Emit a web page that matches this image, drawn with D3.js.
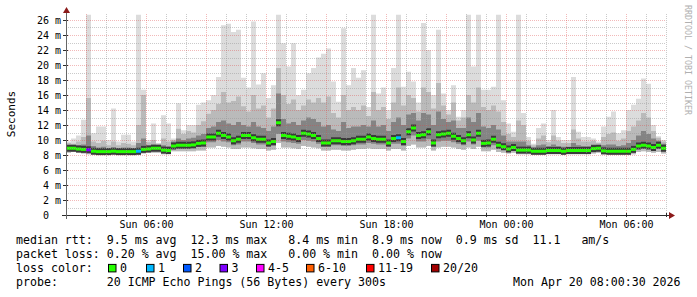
<!DOCTYPE html>
<html>
<head>
<meta charset="utf-8">
<script src="https://cdn.jsdelivr.net/npm/d3@7"></script>
<style>
  body { margin: 0; background: #fff; }
  svg text { font-family: 'DejaVu Sans Mono', monospace; white-space: pre; }
</style>
</head>
<body>
<div id="chart"></div>
<script>
// one sample every 15 minutes, Sun 02:00 -> Mon 08:00
const start = new Date(2026, 3, 19, 2, 0);
const end = new Date(2026, 3, 20, 8, 0);
const stepMinutes = 15;

const median = [
  8.9, 8.9, 8.8, 8.75, 8.7, 8.5, 8.45, 8.45, 8.45, 8.5,
  8.45, 8.45, 8.45, 8.45, 8.5, 8.75, 8.8, 8.9, 8.9, 8.65,
  8.6, 9.2, 9.3, 9.3, 9.3, 9.35, 9.55, 9.6, 10.4, 10.4,
  10.9, 10.6, 10.4, 9.9, 10.1, 10.6, 10.6, 10.3, 10.1, 10.1,
  9.6, 9.8, 12.3, 10.6, 10.5, 10.4, 10.2, 10.9, 10.8, 10.6,
  10.2, 9.6, 9.6, 9.9, 9.9, 9.8, 9.8, 9.9, 10.1, 10.1,
  10.4, 10.2, 10.1, 10.1, 9.6, 10.2, 10.3, 9.8, 11.1, 11.6,
  10.6, 10.7, 11.1, 9.6, 10.7, 10.8, 10.9, 10.5, 10.2, 9.9,
  10.7, 10.0, 10.9, 9.55, 9.6, 10.1, 9.3, 9.1, 8.8, 9.0,
  8.65, 8.65, 8.65, 8.5, 8.5, 8.5, 8.6, 8.6, 8.6, 8.5,
  8.6, 8.6, 8.6, 8.6, 8.6, 8.85, 8.9, 8.55, 8.5, 8.5,
  8.5, 8.5, 8.5, 8.75, 9.2, 9.3, 9.2, 9.0, 9.3, 8.9
];
const smokeMin = [
  8.3, 8.4, 8.3, 8.2, 8.1, 8.1, 8.1, 8.1, 8.1, 8.1,
  8.1, 8.1, 8.1, 8.1, 8.0, 8.2, 8.3, 8.3, 8.3, 8.1,
  8.1, 8.5, 8.5, 8.5, 8.5, 8.5, 8.6, 8.6, 9.0, 9.0,
  9.2, 9.1, 9.0, 8.8, 8.8, 9.0, 9.0, 8.9, 8.8, 8.8,
  8.6, 8.7, 9.6, 9.0, 9.0, 8.9, 8.8, 9.2, 9.1, 9.0,
  8.9, 8.6, 8.6, 8.7, 8.7, 8.6, 8.6, 8.7, 8.8, 8.8,
  8.9, 8.8, 8.8, 8.8, 8.6, 8.8, 8.8, 8.6, 9.2, 9.4,
  9.0, 9.0, 9.2, 8.6, 9.0, 9.1, 9.1, 9.0, 8.8, 8.7,
  9.0, 8.8, 9.1, 8.5, 8.5, 8.7, 8.4, 8.3, 8.2, 8.3,
  8.1, 8.1, 8.1, 8.0, 8.0, 8.0, 8.1, 8.1, 8.1, 8.0,
  8.1, 8.1, 8.1, 8.1, 8.1, 8.2, 8.3, 8.1, 8.0, 8.0,
  8.0, 8.0, 8.0, 8.1, 8.4, 8.5, 8.4, 8.3, 8.4, 8.2
];
const smokeLo = [
  8.7, 8.7, 8.6, 8.5, 8.5, 8.3, 8.3, 8.3, 8.3, 8.3,
  8.3, 8.3, 8.3, 8.3, 8.3, 8.5, 8.6, 8.7, 8.7, 8.4,
  8.4, 8.9, 9.0, 9.0, 9.0, 9.0, 9.1, 9.1, 9.7, 9.7,
  10.0, 9.8, 9.7, 9.3, 9.4, 9.8, 9.8, 9.6, 9.4, 9.4,
  9.1, 9.2, 10.8, 9.8, 9.7, 9.6, 9.5, 10.0, 9.9, 9.8,
  9.5, 9.1, 9.1, 9.3, 9.3, 9.2, 9.2, 9.3, 9.4, 9.4,
  9.6, 9.5, 9.4, 9.4, 9.1, 9.5, 9.5, 9.2, 10.2, 10.6,
  9.8, 9.8, 10.1, 9.1, 9.8, 9.9, 9.9, 9.7, 9.5, 9.3,
  9.8, 9.4, 9.9, 9.0, 9.0, 9.3, 8.9, 8.8, 8.5, 8.7,
  8.4, 8.4, 8.4, 8.3, 8.3, 8.3, 8.4, 8.4, 8.4, 8.3,
  8.4, 8.4, 8.4, 8.4, 8.4, 8.6, 8.7, 8.3, 8.3, 8.3,
  8.3, 8.3, 8.3, 8.5, 8.9, 9.0, 8.9, 8.7, 8.9, 8.6
];
const smokeHi1 = [
  9.3, 9.2, 9.3, 9.4, 10.6, 9.2, 9.0, 9.1, 8.9, 9.0,
  8.9, 9.0, 9.0, 8.9, 9.6, 10.2, 9.3, 9.4, 9.3, 9.3,
  9.2, 9.8, 10.2, 10.0, 10.2, 10.3, 10.6, 10.8, 11.6, 11.8,
  12.4, 12.6, 12.2, 12.0, 12.4, 12.0, 11.8, 12.4, 11.8, 11.6,
  11.2, 11.8, 16.2, 12.8, 12.2, 12.4, 12.0, 12.6, 13.0, 12.8,
  12.4, 11.8, 12.0, 11.4, 11.2, 12.4, 11.6, 11.8, 11.8, 12.0,
  11.8, 12.6, 11.8, 12.0, 11.2, 12.4, 13.0, 12.0, 13.4, 13.6,
  12.6, 13.6, 13.4, 12.0, 13.8, 12.8, 12.4, 12.6, 11.6, 11.6,
  13.0, 12.4, 13.6, 11.8, 11.6, 12.0, 11.4, 10.6, 9.8, 9.8,
  9.8, 9.8, 9.3, 9.0, 9.3, 9.4, 9.2, 9.4, 9.2, 9.1,
  9.1, 9.6, 9.3, 9.2, 9.2, 9.4, 9.3, 9.3, 9.4, 9.4,
  9.2, 9.3, 9.6, 10.0, 10.6, 11.2, 10.8, 10.2, 9.9, 9.5
];
const smokeHi2 = [
  9.6, 9.5, 9.8, 10.4, 15.6, 9.8, 9.6, 9.9, 9.3, 9.8,
  9.3, 9.6, 9.5, 9.3, 12.0, 16.0, 9.7, 10.0, 9.5, 10.2,
  9.8, 10.0, 11.5, 10.8, 11.2, 11.0, 12.0, 12.5, 13.5, 14.0,
  14.8, 16.4, 15.0, 15.2, 15.8, 14.5, 13.8, 16.0, 14.2, 14.6,
  13.0, 14.2, 19.6, 16.0, 14.8, 15.4, 14.0, 14.6, 15.4, 15.0,
  15.6, 15.0, 15.8, 13.6, 13.0, 16.0, 14.0, 14.4, 14.0, 14.6,
  13.2, 16.4, 14.0, 14.4, 12.8, 15.0, 17.0, 14.6, 16.0, 15.6,
  13.8, 17.0, 16.4, 14.2, 17.6, 14.6, 13.4, 15.0, 12.6, 13.0,
  16.0, 15.0, 17.0, 14.4, 14.0, 14.6, 13.8, 12.4, 10.8, 10.4,
  12.6, 12.0, 9.9, 9.3, 10.2, 10.6, 9.7, 10.6, 9.9, 9.6,
  9.6, 11.4, 10.2, 9.8, 9.8, 9.9, 9.6, 10.4, 10.8, 11.0,
  9.9, 10.2, 11.2, 11.8, 12.6, 13.6, 13.0, 11.2, 10.3, 9.8
];
const smokeMax = [
  9.8, 10.2, 10.6, 12.7, 26.7, 10.9, 11.8, 11.8, 10.0, 14.2,
  9.8, 10.7, 10.7, 9.8, 26.7, 16.7, 10.0, 12.2, 9.6, 13.3,
  12.2, 10.2, 14.9, 11.3, 12.0, 12.0, 14.7, 15.0, 15.3, 16.0,
  18.4, 25.3, 25.5, 24.4, 24.7, 18.3, 17.0, 25.8, 17.4, 18.9,
  15.6, 17.3, 26.7, 22.9, 19.8, 22.9, 16.0, 16.7, 18.9, 19.6,
  21.0, 21.5, 22.2, 17.8, 15.1, 24.9, 17.3, 19.6, 18.3, 19.3,
  14.4, 26.7, 16.2, 17.0, 14.0, 19.6, 26.7, 17.1, 19.1, 17.8,
  15.0, 25.6, 22.0, 16.0, 24.7, 16.2, 14.0, 17.3, 13.1, 14.0,
  26.7, 19.8, 26.7, 16.7, 16.7, 17.1, 26.7, 15.3, 12.2, 11.1,
  26.7, 13.6, 10.4, 9.5, 11.6, 12.2, 10.0, 14.0, 10.4, 10.0,
  10.0, 18.4, 11.1, 10.4, 10.4, 10.2, 9.8, 11.8, 13.1, 13.8,
  10.9, 11.3, 14.0, 14.7, 15.5, 18.2, 17.5, 12.0, 10.5, 10.0
];
// samples with lost pings (slot index -> pings lost out of 20)
const lossSlots = [4, 14, 66];
const lossCounts = [3, 1, 1];

const lossLabels = ['0', '1', '2', '3', '4-5', '6-10', '11-19', '20/20'];
const lossColors = ['#26ff00', '#00b8ff', '#0059ff', '#7e00ff', '#ff00ff', '#ff5e00', '#ff0000', '#a10000'];
const lossBoxX = [108, 146, 183, 219.5, 256, 306, 366, 431];

const yTickValues = [0, 2, 4, 6, 8, 10, 12, 14, 16, 18, 20, 22, 24, 26];

const statLines = [
  'median rtt:  9.5 ms avg  12.3 ms max   8.4 ms min  8.9 ms now  0.9 ms sd  11.1   am/s',
  'packet loss: 0.20 % avg  15.00 % max   0.00 % min  0.00 % now',
  'loss color:',
  'probe:       20 ICMP Echo Pings (56 Bytes) every 300s'
];
const stamp = 'Mon Apr 20 08:00:30 2026';

const width = 697;
const height = 297;
const plot = { left: 66, right: 666, top: 14, bottom: 215 };

const svg = d3
  .select('#chart')
  .append('svg')
  .attr('width', width)
  .attr('height', height);

svg.append('rect').attr('width', width).attr('height', height).attr('fill', '#fff');

const x = d3.scaleTime().domain([start, end]).range([plot.left, plot.right]);
const y = d3.scaleLinear().domain([0, 26.8]).range([plot.bottom, plot.top]);

const lossBin = n => (n <= 3 ? n : n <= 5 ? 4 : n <= 10 ? 5 : n < 20 ? 6 : 7);

const slots = median.map((m, i) => {
  const li = lossSlots.indexOf(i);
  return {
    t0: d3.timeMinute.offset(start, i * stepMinutes),
    t1: d3.timeMinute.offset(start, (i + 1) * stepMinutes),
    med: m,
    min: smokeMin[i],
    lo: smokeLo[i],
    hi1: smokeHi1[i],
    hi2: smokeHi2[i],
    max: smokeMax[i],
    loss: li < 0 ? 0 : lossCounts[li]
  };
});

// smoke, outer to inner
const bands = [
  { lo: d => d.min, hi: d => d.max, color: '#dcdcdc' },
  { lo: d => d.min, hi: d => d.hi2, color: '#bababa' },
  { lo: d => d.lo, hi: d => d.hi1, color: '#848484' }
];

const smoke = svg.append('g').attr('class', 'smoke');
bands.forEach(b => {
  smoke
    .append('g')
    .selectAll('rect')
    .data(slots)
    .enter()
    .append('rect')
    .attr('x', d => x(d.t0))
    .attr('width', d => x(d.t1) - x(d.t0))
    .attr('y', d => y(b.hi(d)))
    .attr('height', d => y(b.lo(d)) - y(b.hi(d)))
    .attr('fill', b.color);
});

// dark core round the median, then the median itself in loss colour
smoke
  .append('g')
  .selectAll('rect')
  .data(slots)
  .enter()
  .append('rect')
  .attr('x', d => x(d.t0))
  .attr('width', d => x(d.t1) - x(d.t0))
  .attr('y', d => y(d.med) - 3.5)
  .attr('height', 7)
  .attr('fill', '#3a3a3a');

smoke
  .append('g')
  .selectAll('rect')
  .data(slots)
  .enter()
  .append('rect')
  .attr('x', d => x(d.t0))
  .attr('width', d => x(d.t1) - x(d.t0))
  .attr('y', d => y(d.med) - 1.5)
  .attr('height', 3)
  .attr('fill', d => lossColors[lossBin(d.loss)]);

// grid on top, as rrdtool does
const grid = svg.append('g').attr('class', 'grid').attr('stroke-dasharray', '1,1');
const minorColor = 'rgba(150,150,150,0.5)';
const majorColor = 'rgba(222,70,70,0.38)';

grid
  .selectAll('.ymin')
  .data(d3.range(1, 27, 2))
  .enter()
  .append('line')
  .attr('x1', plot.left)
  .attr('x2', plot.right)
  .attr('y1', d => Math.round(y(d)) + 0.5)
  .attr('y2', d => Math.round(y(d)) + 0.5)
  .attr('stroke', minorColor);

const hours = x.ticks(d3.timeHour.every(1));
grid
  .selectAll('.xmin')
  .data(hours.filter(h => h.getHours() % 3 !== 0))
  .enter()
  .append('line')
  .attr('x1', d => Math.round(x(d)) + 0.5)
  .attr('x2', d => Math.round(x(d)) + 0.5)
  .attr('y1', plot.top)
  .attr('y2', plot.bottom)
  .attr('stroke', minorColor);

grid
  .selectAll('.ymaj')
  .data(yTickValues.filter(v => v > 0))
  .enter()
  .append('line')
  .attr('x1', plot.left)
  .attr('x2', plot.right)
  .attr('y1', d => Math.round(y(d)) + 0.5)
  .attr('y2', d => Math.round(y(d)) + 0.5)
  .attr('stroke', majorColor);

grid
  .selectAll('.xmaj')
  .data(hours.filter(h => h.getHours() % 3 === 0))
  .enter()
  .append('line')
  .attr('x1', d => Math.round(x(d)) + 0.5)
  .attr('x2', d => Math.round(x(d)) + 0.5)
  .attr('y1', plot.top)
  .attr('y2', plot.bottom)
  .attr('stroke', majorColor);

// axes
const axisColor = '#2c2c2c';
const arrowColor = '#8b1a1a';

const xAxis = svg
  .append('g')
  .attr('class', 'xAxis')
  .attr('transform', `translate(0,${plot.bottom})`)
  .call(
    d3
      .axisBottom(x)
      .ticks(d3.timeHour.every(6))
      .tickFormat(d3.timeFormat('%a %H:%M'))
      .tickSize(0)
      .tickPadding(6)
  );
xAxis.select('.domain').remove();
xAxis.attr('font-family', 'DejaVu Sans Mono').attr('font-size', 10);

const yAxis = svg
  .append('g')
  .attr('class', 'yAxis')
  .attr('transform', `translate(${plot.left},0)`)
  .call(
    d3
      .axisLeft(y)
      .tickValues(yTickValues)
      .tickFormat(d => (d === 0 ? '0' : `${d} m`))
      .tickSize(0)
      .tickPadding(5)
  );
yAxis.select('.domain').remove();
yAxis.attr('font-family', 'DejaVu Sans Mono').attr('font-size', 10);
yAxis
  .selectAll('.tick text')
  .attr('dx', d => (d === 0 ? -12 : 0));

// small ticks on the axes
svg
  .append('g')
  .selectAll('line')
  .data(yTickValues)
  .enter()
  .append('line')
  .attr('x1', plot.left - 3)
  .attr('x2', plot.left + 2)
  .attr('y1', d => Math.round(y(d)) + 0.5)
  .attr('y2', d => Math.round(y(d)) + 0.5)
  .attr('stroke', axisColor);

svg
  .append('g')
  .selectAll('line')
  .data(hours)
  .enter()
  .append('line')
  .attr('x1', d => Math.round(x(d)) + 0.5)
  .attr('x2', d => Math.round(x(d)) + 0.5)
  .attr('y1', plot.bottom - 2)
  .attr('y2', plot.bottom + 2)
  .attr('stroke', axisColor);

svg
  .append('line')
  .attr('x1', plot.left - 4)
  .attr('x2', plot.right + 4)
  .attr('y1', plot.bottom + 0.5)
  .attr('y2', plot.bottom + 0.5)
  .attr('stroke', axisColor);

svg
  .append('line')
  .attr('x1', plot.left + 0.5)
  .attr('x2', plot.left + 0.5)
  .attr('y1', plot.bottom + 4)
  .attr('y2', plot.top - 2)
  .attr('stroke', '#666');

svg
  .append('path')
  .attr('d', `M${plot.left - 3},${plot.top - 1}L${plot.left + 0.5},${plot.top - 7}L${plot.left + 4},${plot.top - 1}Z`)
  .attr('fill', arrowColor);

svg
  .append('path')
  .attr('d', `M${plot.right + 3},${plot.bottom - 3}L${plot.right + 9},${plot.bottom + 0.5}L${plot.right + 3},${plot.bottom + 4}Z`)
  .attr('fill', arrowColor);

// titles
svg
  .append('text')
  .attr('transform', 'translate(15,114) rotate(-90)')
  .attr('text-anchor', 'middle')
  .attr('font-size', 11)
  .attr('fill', '#000')
  .text('Seconds');

svg
  .append('text')
  .attr('transform', 'translate(684.5,60) rotate(90)')
  .attr('text-anchor', 'middle')
  .attr('font-size', 8.3)
  .attr('fill', '#b0b0b0')
  .text('RRDTOOL / TOBI OETIKER');

// statistics and legend
const legend = svg.append('g').attr('class', 'legend').attr('font-size', 11.6).attr('fill', '#000');
const lineY = [244.3, 258.1, 271.9, 285.7];

legend
  .selectAll('text.stat')
  .data(statLines)
  .enter()
  .append('text')
  .attr('class', 'stat')
  .attr('x', 16)
  .attr('y', (d, i) => lineY[i])
  .text(d => d);

legend
  .append('text')
  .attr('x', 513)
  .attr('y', lineY[3])
  .text(stamp);

const item = legend
  .selectAll('g.item')
  .data(lossLabels)
  .enter()
  .append('g')
  .attr('class', 'item')
  .attr('transform', (d, i) => `translate(${lossBoxX[i]},0)`);

item
  .append('rect')
  .attr('x', 0.5)
  .attr('y', lineY[2] - 7.5)
  .attr('width', 7.5)
  .attr('height', 7.5)
  .attr('fill', (d, i) => lossColors[i])
  .attr('stroke', '#000');

item
  .append('text')
  .attr('x', 12)
  .attr('y', lineY[2])
  .text(d => d);
</script>
</body>
</html>
